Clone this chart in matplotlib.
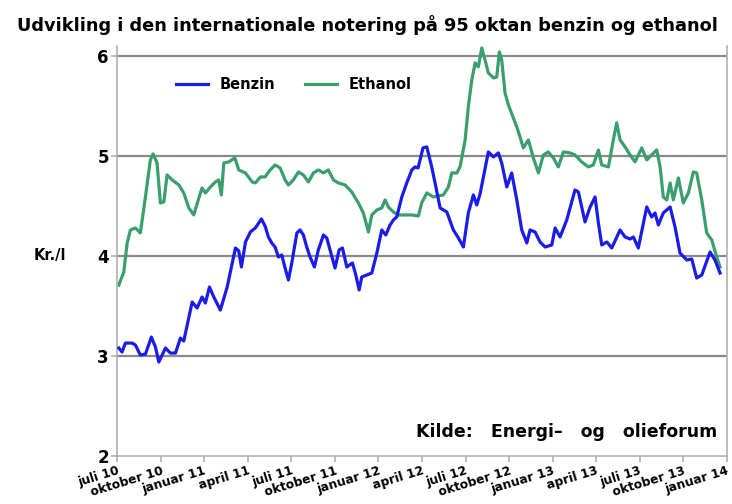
import matplotlib
matplotlib.use("Agg")
import matplotlib.pyplot as plt

# x = months since juli 2010
benzin_x = [0.12, 0.34, 0.57, 1.03, 1.26, 1.60, 1.95, 2.36, 2.64, 2.87, 3.33, 3.67, 4.02, 4.36, 4.59,
            5.17, 5.51, 5.85, 6.08, 6.36, 6.66, 7.11, 7.58, 8.15, 8.38, 8.56, 8.84, 9.18, 9.52, 9.94,
            10.19, 10.42, 10.65, 10.88, 11.11, 11.34, 11.57, 11.80, 12.03, 12.38, 12.60, 12.83, 13.06,
            13.29, 13.59, 13.86, 14.21, 14.44, 14.67, 15.01, 15.29, 15.52, 15.82, 16.21, 16.44, 16.67,
            16.85, 17.20, 17.54, 17.89, 18.23, 18.51, 18.80, 19.03, 19.26, 19.61, 19.95, 20.30, 20.52,
            20.73, 21.07, 21.33, 21.67, 21.90, 22.25, 22.71, 23.16, 23.51, 23.85, 24.19, 24.54, 24.77,
            25.00, 25.57, 25.92, 26.26, 26.49, 26.84, 27.18, 27.53, 27.87, 28.22, 28.44, 28.79, 29.13,
            29.48, 29.94, 30.17, 30.51, 30.97, 31.54, 31.77, 32.23, 32.58, 32.92, 33.15, 33.38, 33.73,
            34.07, 34.64, 34.99, 35.33, 35.56, 35.90, 36.48, 36.82, 37.05, 37.28, 37.62, 38.09, 38.43,
            38.77, 39.24, 39.58, 39.92, 40.27, 40.84, 41.18, 41.53]
benzin = [3.08, 3.04, 3.13, 3.13, 3.11, 3.01, 3.02, 3.19, 3.09, 2.94, 3.08, 3.03, 3.03, 3.18, 3.15,
          3.54, 3.48, 3.59, 3.53, 3.69, 3.59, 3.46, 3.69, 4.08, 4.05, 3.89, 4.14, 4.24, 4.28, 4.37,
          4.30, 4.19, 4.13, 4.09, 3.99, 4.01, 3.88, 3.76, 3.93, 4.23, 4.26, 4.21, 4.09,
          3.99, 3.89, 4.06, 4.21, 4.18, 4.06, 3.88, 4.06, 4.08, 3.89, 3.93, 3.81, 3.66,
          3.79, 3.81, 3.83, 4.03, 4.26, 4.21, 4.31, 4.36, 4.39, 4.59, 4.73, 4.86, 4.89,
          4.88, 5.08, 5.09, 4.89, 4.73, 4.48, 4.44, 4.26, 4.18, 4.09, 4.43, 4.61, 4.51,
          4.62, 5.04, 4.99, 5.03, 4.93, 4.69, 4.83, 4.56, 4.26, 4.13, 4.26, 4.24, 4.14,
          4.09, 4.11, 4.28, 4.19, 4.36, 4.66, 4.64, 4.34, 4.49, 4.59, 4.33, 4.11, 4.14,
          4.08, 4.26, 4.19, 4.17, 4.19, 4.08, 4.49, 4.39, 4.43, 4.31, 4.43, 4.49, 4.29,
          4.03, 3.96, 3.97, 3.78, 3.81, 4.04, 3.96, 3.83]

ethanol_x = [0.12, 0.46, 0.69, 0.92, 1.26, 1.60, 1.95, 2.29, 2.48, 2.75, 2.98, 3.22, 3.44, 3.79, 4.25,
             4.59, 4.94, 5.28, 5.63, 5.85, 6.08, 6.43, 6.77, 7.00, 7.18, 7.35, 7.69, 8.11, 8.38, 8.84,
             9.30, 9.52, 9.87, 10.19, 10.54, 10.88, 11.23, 11.57, 11.80, 12.14, 12.49, 12.83, 13.18,
             13.52, 13.86, 14.21, 14.55, 14.90, 15.24, 15.70, 16.16, 16.62, 16.96, 17.31, 17.54, 17.89,
             18.23, 18.46, 18.68, 19.03, 19.37, 19.83, 20.30, 20.75, 20.98, 21.33, 21.78, 22.47, 22.82,
             23.05, 23.40, 23.62, 23.97, 24.19, 24.43, 24.66, 24.88, 25.12, 25.34, 25.57, 25.92, 26.15,
             26.33, 26.49, 26.72, 26.95, 27.29, 27.53, 27.75, 27.98, 28.33, 28.67, 29.02, 29.36, 29.70,
             30.05, 30.39, 30.74, 31.20, 31.54, 32.00, 32.46, 32.80, 33.15, 33.38, 33.84, 34.18, 34.41,
             34.64, 34.99, 35.33, 35.67, 36.14, 36.48, 36.82, 37.17, 37.40, 37.62, 37.86, 38.09, 38.31,
             38.66, 39.00, 39.35, 39.69, 39.92, 40.27, 40.61, 40.96, 41.30, 41.53]
ethanol = [3.71, 3.84, 4.13, 4.26, 4.28, 4.23, 4.59, 4.96, 5.02, 4.93, 4.53, 4.54, 4.81, 4.76, 4.71,
           4.63, 4.48, 4.41, 4.58, 4.68, 4.63, 4.69, 4.74, 4.76, 4.61, 4.93, 4.94, 4.98, 4.86, 4.83,
           4.74, 4.73, 4.79, 4.79, 4.86, 4.91, 4.88, 4.76, 4.71, 4.76, 4.84, 4.81, 4.74,
           4.83, 4.86, 4.83, 4.86, 4.76, 4.73, 4.71, 4.64, 4.53, 4.43, 4.24, 4.41, 4.46,
           4.48, 4.56, 4.49, 4.44, 4.41, 4.41, 4.41, 4.40, 4.53, 4.63, 4.59, 4.61, 4.69,
           4.83, 4.83, 4.89, 5.16, 5.49, 5.76, 5.93, 5.89, 6.08, 5.96, 5.83, 5.78, 5.79,
           6.04, 5.96, 5.63, 5.51, 5.38, 5.29, 5.19, 5.08, 5.16, 4.98, 4.83, 5.01, 5.04,
           4.98, 4.89, 5.04, 5.03, 5.01, 4.94, 4.89, 4.91, 5.06, 4.91, 4.89, 5.16, 5.33,
           5.16, 5.09, 5.01, 4.94, 5.08, 4.96, 5.01, 5.06, 4.89, 4.59, 4.56, 4.73, 4.56,
           4.78, 4.53, 4.63, 4.84, 4.83, 4.56, 4.23, 4.16, 3.99, 3.89]

tick_labels = ["juli 10", "oktober 10", "januar 11", "april 11", "juli 11", "oktober 11",
               "januar 12", "april 12", "juli 12", "oktober 12", "januar 13", "april 13",
               "juli 13", "oktober 13", "januar 14"]
tick_pos = [3 * i for i in range(len(tick_labels))]

plt.rcParams["font.family"] = "DejaVu Sans"
plt.rcParams["font.weight"] = "bold"

fig = plt.figure(figsize=(7.32, 5.04), dpi=100)
ax = fig.add_axes([0.160, 0.095, 0.833, 0.814])

grid_c = "#8a8a8a"
for y in [3, 4, 5, 6]:
    ax.axhline(y, color=grid_c, lw=1.6, zorder=1)

ax.plot(benzin_x, benzin, color="#1c1ce8", lw=2.3, label="Benzin", zorder=3)
ax.plot(ethanol_x, ethanol, color="#3a9f6c", lw=2.3, label="Ethanol", zorder=2)

ax.set_xlim(0, 42)
ax.set_ylim(2, 6.1)
ax.set_yticks([2, 3, 4, 5, 6])
ax.set_yticklabels(["2", "3", "4", "5", "6"], fontsize=12, fontweight="bold")
ax.set_xticks(tick_pos)
ax.set_xticklabels(tick_labels, fontsize=8.8, fontweight="bold", rotation=17,
                   ha="right", rotation_mode="anchor")

ax.spines["top"].set_visible(False)
for s in ["left", "bottom", "right"]:
    ax.spines[s].set_color("#b0b0b0")
    ax.spines[s].set_linewidth(1.2)
ax.tick_params(axis="both", color="#b0b0b0", length=4, width=1.2, pad=2)

ax.legend(loc="upper left", bbox_to_anchor=(0.075, 0.955), ncol=2, frameon=False,
          prop={"weight": "bold", "size": 10.5}, handlelength=2.2, columnspacing=2.0)

fig.text(0.502, 0.950, "Udvikling i den internationale notering på 95 oktan benzin og ethanol",
         ha="center", va="center", fontsize=12.8, fontweight="heavy")
fig.text(0.046, 0.493, "Kr./l", ha="left", va="center", fontsize=10.5, fontweight="bold")
ax.text(0.985, 0.058, "Kilde:   Energi–   og   olieforum", transform=ax.transAxes,
        ha="right", va="center", fontsize=12.5, fontweight="bold")

fig.savefig("out.png", dpi=100)
